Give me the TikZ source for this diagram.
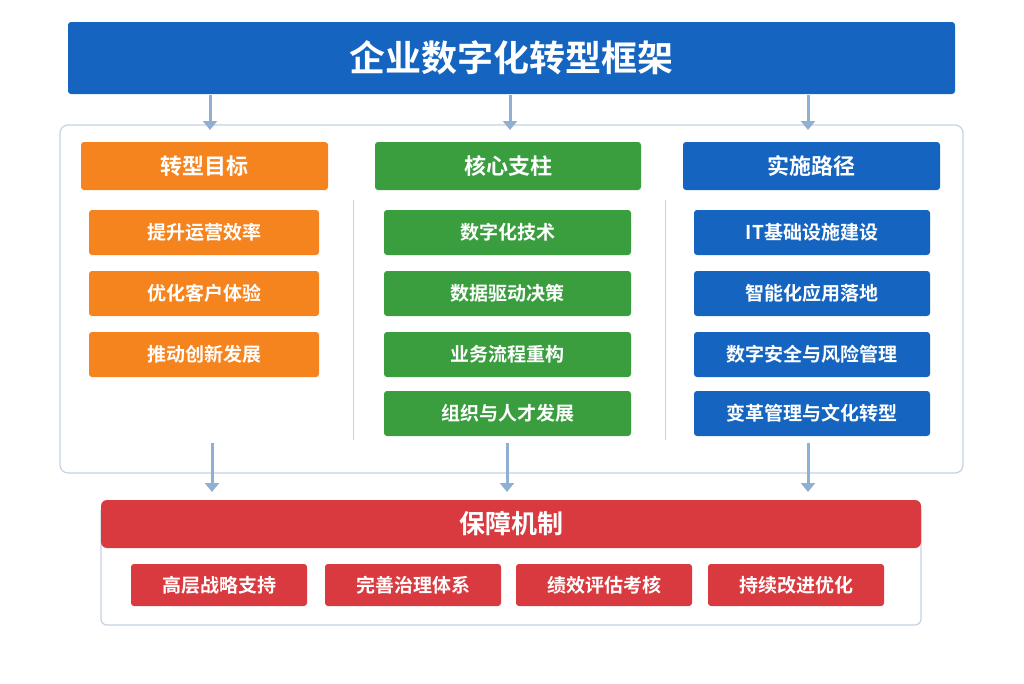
\documentclass[tikz,border=0pt]{standalone}
\usepackage{fontspec}
\setmainfont{Noto Sans CJK SC}[BoldFont={* Bold}]
\usetikzlibrary{arrows.meta}
\definecolor{cor}{HTML}{F5841F}
\definecolor{cgr}{HTML}{3A9E3F}
\definecolor{cbl}{HTML}{1565C0}
\definecolor{crd}{HTML}{D93A3F}
\definecolor{carr}{HTML}{8FB0D2}
\definecolor{cbd}{HTML}{C5D3E0}
\begin{document}
\begin{tikzpicture}[x=1pt,y=-1pt,
 box/.style={rounded corners=3pt,text=white,font=\bfseries\fontsize{19}{19}\selectfont,inner sep=0pt},
 hd/.style={box,font=\bfseries\fontsize{22}{22}\selectfont},
 arr/.style={carr,line width=3pt,-{Triangle[length=9pt,width=14pt]}},
 div/.style={cbd,line width=1pt}]
\useasboundingbox[fill=white] (0,0) rectangle (1024,683);
\newcommand\bx[7]{\node[#1,fill=#2,minimum width=#5-#3,minimum height=#6-#4] (#7) at ({(#3+#5)/2},{(#4+#6)/2}) {};}
% title
\node[box,fill=cbl,minimum width=887,minimum height=72,font=\bfseries\fontsize{36}{36}\selectfont] (title) at (511.5,58) {企业数字化转型框架};
\node[draw=cbd,line width=1.2pt,rounded corners=8pt,minimum width=903,minimum height=348] (cont) at (511.5,299) {};
\coordinate (t1) at (210,95); \coordinate (t2) at (510,95); \coordinate (t3) at (808,95);
\coordinate (c1) at (210,130); \coordinate (c2) at (510,130); \coordinate (c3) at (808,130);
\draw[arr] (t1)--(c1); \draw[arr] (t2)--(c2); \draw[arr] (t3)--(c3);
% headers
\node[hd,fill=cor,minimum width=247,minimum height=48] (h1) at (204.5,166) {转型目标};
\node[hd,fill=cgr,minimum width=266,minimum height=48] (h2) at (508,166) {核心支柱};
\node[hd,fill=cbl,minimum width=257,minimum height=48] (h3) at (811.5,166) {实施路径};
% dividers
\coordinate (d1a) at (353,200); \coordinate (d1b) at (353,440);
\coordinate (d2a) at (665,200); \coordinate (d2b) at (665,440);
\draw[div] (d1a)--(d1b); \draw[div] (d2a)--(d2b);
% orange
\foreach \t [count=\i] in {提升运营效率,优化客户体验,推动创新发展}
 \node[box,fill=cor,minimum width=230,minimum height=45] (o\i) at (204,{232.5+61*(\i-1)}) {\t};
\foreach \t/\yy [count=\i] in {数字化技术/232.5,数据驱动决策/293.5,业务流程重构/354.5,组织与人才发展/413.5}
 \node[box,fill=cgr,minimum width=247,minimum height=45] (g\i) at (507.5,\yy) {\t};
\foreach \t/\yy [count=\i] in {IT基础设施建设/232.5,智能化应用落地/293.5,数字安全与风险管理/354.5,变革管理与文化转型/413.5}
 \node[box,fill=cbl,minimum width=236,minimum height=45] (b\i) at (812,\yy) {\t};
% bottom
\node[draw=cbd,line width=1.2pt,rounded corners=6pt,minimum width=820,minimum height=120] (bot) at (511,565) {};
\node[hd,fill=crd,minimum width=820,minimum height=48,font=\bfseries\fontsize{26}{26}\selectfont,rounded corners=6pt] (bh) at (511,524) {保障机制};
\coordinate (a1) at (212,443); \coordinate (a2) at (507,443); \coordinate (a3) at (808,443);
\coordinate (e1) at (212,492); \coordinate (e2) at (507,492); \coordinate (e3) at (808,492);
\draw[arr] (a1)--(e1); \draw[arr] (a2)--(e2); \draw[arr] (a3)--(e3);
\foreach \t/\xx [count=\i] in {高层战略支持/219,完善治理体系/413,绩效评估考核/604,持续改进优化/796}
 \node[box,fill=crd,minimum width=176,minimum height=42] (r\i) at (\xx,585) {\t};
\end{tikzpicture}
\end{document}
